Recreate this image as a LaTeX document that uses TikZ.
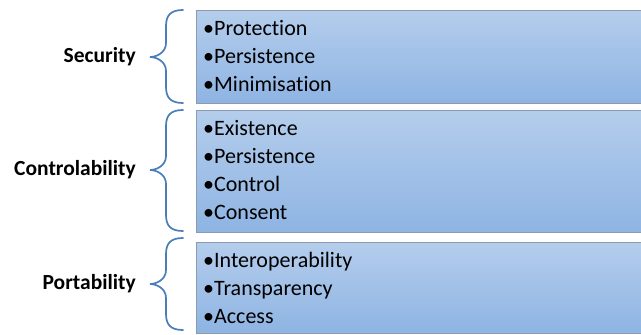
\documentclass[tikz,border=0pt]{standalone}
\usepackage{fontspec}
\setmainfont[Ligatures={NoCommon}]{Carlito}
\definecolor{boxtop}{RGB}{180,205,236}
\definecolor{boxbot}{RGB}{142,180,227}
\definecolor{boxline}{RGB}{140,155,175}
\definecolor{bracecol}{RGB}{74,126,187}
\newcommand{\bracepath}[3]{%
  \draw[bracestyle] (#1) .. controls ++(-12,0) and ++(0,-11) .. ++(-17,16)
    coordinate (tmpA)
    -- ($(tmpA)!1!(tmpA |- #3)+(0,-14)$)
    .. controls ++(0,10) and ++(6,0) .. (#3)
    .. controls ++(6,0) and ++(0,-10) .. ($(#3)+(16,14)$)
    -- ($(#2)+(-17,-16)$)
    .. controls ++(0,11) and ++(-12,0) .. (#2);}
\usetikzlibrary{calc}
\begin{document}
\begin{tikzpicture}[x=1pt,y=-1pt,
  box/.style={draw=boxline, line width=1.1pt, top color=boxtop, bottom color=boxbot,
    anchor=north west, inner sep=0pt},
  items/.style={anchor=west, align=left, font=\fontsize{22}{28}\selectfont, inner sep=0pt},
  label/.style={anchor=east, font=\bfseries\fontsize{21.5}{24}\selectfont, inner sep=0pt},
  bracestyle/.style={draw=bracecol, line width=1.7pt, line cap=round}]
\useasboundingbox (0,0) rectangle (641,335);
% boxes
\node[box, minimum width=452pt, minimum height=93pt] (b1) at (196,10) {};
\node[box, minimum width=452pt, minimum height=122pt] (b2) at (196,110) {};
\node[box, minimum width=452pt, minimum height=91pt] (b3) at (196,242) {};
% items
\node[items] (t1) at (203,56.5) {•Protection\\•Persistence\\•Minimisation};
\node[items] (t2) at (203,170.5) {•Existence\\•Persistence\\•Control\\•Consent};
\node[items] (t3) at (203,287.5) {•Interoperability\\•Transparency\\•Access};
% labels
\node[label] (l1) at (136,57) {Security};
\node[label] (l2) at (136,170) {Controlability};
\node[label] (l3) at (136,284) {Portability};
% braces
\coordinate (a1) at (183,10);  \coordinate (z1) at (183,103); \coordinate (m1) at (150,57);
\coordinate (a2) at (183,110); \coordinate (z2) at (183,231); \coordinate (m2) at (150,170);
\coordinate (a3) at (183,238); \coordinate (z3) at (183,330); \coordinate (m3) at (150,284);
\bracepath{a1}{z1}{m1}
\bracepath{a2}{z2}{m2}
\bracepath{a3}{z3}{m3}
\end{tikzpicture}
\end{document}
